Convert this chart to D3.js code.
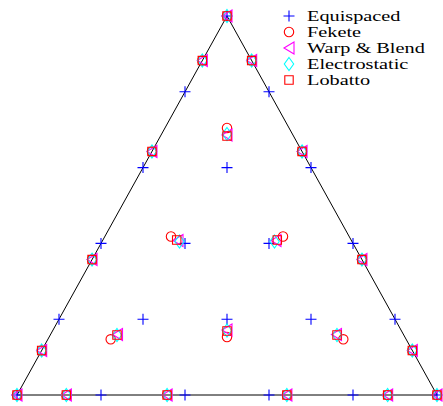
<!DOCTYPE html>
<html>
<head>
<meta charset="utf-8">
<script src="https://cdn.jsdelivr.net/npm/d3@7"></script>
<style>
  html, body { margin: 0; padding: 0; background: #fff; }
  svg { display: block; }
</style>
</head>
<body>
<svg id="chart" width="443" height="406"></svg>
<script>
// Degree-5 nodal sets on the equilateral triangle with vertices
// (-1, -1/sqrt3), (1, -1/sqrt3), (0, 2/sqrt3).

const triangleX = [-1, 1, 0];
const triangleY = [-0.57735, -0.57735, 1.1547];

// Equispaced nodes
const equiX = [-1, -0.6, -0.2, 0.2, 0.6, 1,
               -0.8, -0.4, 0, 0.4, 0.8,
               -0.6, -0.2, 0.2, 0.6,
               -0.4, 0, 0.4,
               -0.2, 0.2,
               0];
const equiY = [-0.5774, -0.5774, -0.5774, -0.5774, -0.5774, -0.5774,
               -0.2309, -0.2309, -0.2309, -0.2309, -0.2309,
               0.1155, 0.1155, 0.1155, 0.1155,
               0.4619, 0.4619, 0.4619,
               0.8083, 0.8083,
               1.1547];

// Vertices and edge nodes shared by the optimised sets (Gauss-Lobatto on the edges)
const edgeX = [-1, -0.765, -0.2852, 0.2852, 0.765, 1,
               -0.8825, -0.6426, -0.3574, -0.1175,
               0.8825, 0.6426, 0.3574, 0.1175,
               0];
const edgeY = [-0.5774, -0.5774, -0.5774, -0.5774, -0.5774, -0.5774,
               -0.3739, 0.0416, 0.5357, 0.9512,
               -0.3739, 0.0416, 0.5357, 0.9512,
               1.1547];

// Interior nodes of each set
const feketeX = [0, -0.2667, 0.2667, -0.5538, 0.5538, 0];
const feketeY = [0.643, 0.147, 0.147, -0.3228, -0.3228, -0.3123];

const warpX = [0, -0.2333, 0.2333, -0.5214, 0.5214, 0];
const warpY = [0.611, 0.1287, 0.1287, -0.3009, -0.3009, -0.2803];

const electroX = [0, -0.2262, 0.2262, -0.5238, 0.5238, 0];
const electroY = [0.6155, 0.1242, 0.1242, -0.3032, -0.3032, -0.2826];

const lobattoX = [0, -0.2395, 0.2395, -0.5238, 0.5238, 0];
const lobattoY = [0.6063, 0.131, 0.131, -0.3032, -0.3032, -0.2849];

const legendLabels = ["Equispaced", "Fekete", "Warp & Blend", "Electrostatic", "Lobatto"];

const svg = d3.select("#chart");
const x = d3.scaleLinear().domain([-1, 1]).range([17, 437]);
const y = d3.scaleLinear().domain([-0.57735, 1.1547]).range([395, 16]);

// Marker outlines, centred on the origin
const markers = {
  plus: () => "M-5.5,0H5.5M0,-5.5V5.5",
  circle: () => "M4.7,0A4.7,4.7 0 1,1 -4.7,0A4.7,4.7 0 1,1 4.7,0Z",
  triangle: () => "M-5,0L5,-6L5,6Z",
  diamond: () => "M0,-6.5L4.7,0L0,6.5L-4.7,0Z",
  square: () => "M-4.2,-4.2H4.2V4.2H-4.2Z"
};

const series = [
  { xs: equiX, ys: equiY, marker: "plus", color: "#0000ff" },
  { xs: edgeX.concat(feketeX), ys: edgeY.concat(feketeY), marker: "circle", color: "#ff0000" },
  { xs: edgeX.concat(warpX), ys: edgeY.concat(warpY), marker: "triangle", color: "#ff00ff" },
  { xs: edgeX.concat(electroX), ys: edgeY.concat(electroY), marker: "diamond", color: "#00ffff" },
  { xs: edgeX.concat(lobattoX), ys: edgeY.concat(lobattoY), marker: "square", color: "#ff0000" }
];

// Triangle outline
const outline = d3.line().x(d => x(d[0])).y(d => y(d[1]));
svg.append("path")
  .attr("d", outline(d3.zip(triangleX, triangleY)) + "Z")
  .attr("fill", "none")
  .attr("stroke", "#000")
  .attr("stroke-width", 1);

// Nodes
series.forEach(s => {
  svg.append("g")
    .selectAll("path")
    .data(d3.zip(s.xs, s.ys))
    .join("path")
    .attr("transform", d => `translate(${x(d[0])},${y(d[1])})`)
    .attr("d", markers[s.marker]())
    .attr("fill", "none")
    .attr("stroke", s.color)
    .attr("stroke-width", 1.1);
});

// Legend
const legend = svg.append("g").attr("transform", "translate(289,16)");
legendLabels.forEach((label, i) => {
  const row = legend.append("g").attr("transform", `translate(0,${i * 16})`);
  row.append("path")
    .attr("d", markers[series[i].marker]())
    .attr("fill", "none")
    .attr("stroke", series[i].color)
    .attr("stroke-width", 1.1);
  row.append("text")
    .attr("transform", "translate(18,4.7) scale(1.4,1)")
    .attr("font-family", "'Liberation Serif', serif")
    .attr("font-size", 14.5)
    .attr("fill", "#000")
    .text(label);
});
</script>
</body>
</html>
